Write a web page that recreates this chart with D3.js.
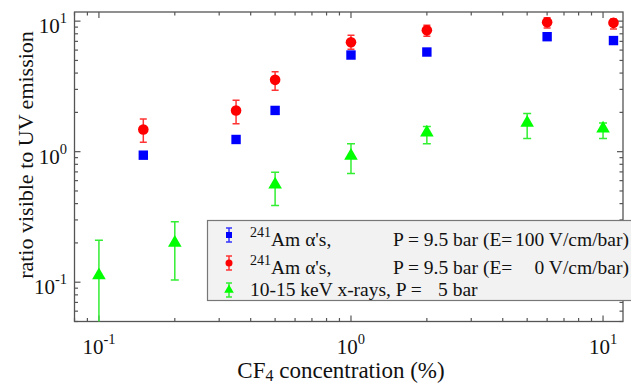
<!DOCTYPE html>
<html><head><meta charset="utf-8">
<script src="https://cdn.jsdelivr.net/npm/d3@7"></script>
<style>body{margin:0;background:#fff}svg{display:block}</style>
</head><body><svg id="c" width="631" height="383"></svg>
<script>
// Data
const blueX = [0.15, 0.35, 0.5, 1, 2, 6, 11];
const blueY = [0.94, 1.24, 2.07, 5.5, 5.8, 7.6, 7.1];
const blueLo = [0.90, 1.19, 1.99, 5.3, 5.6, 7.3, 6.85];
const blueHi = [0.98, 1.29, 2.15, 5.7, 6.0, 7.9, 7.35];

const redX = [0.15, 0.35, 0.5, 1, 2, 6, 11];
const redY = [1.48, 2.07, 3.55, 6.9, 8.5, 9.8, 9.7];
const redLo = [1.18, 1.64, 2.96, 6.08, 7.67, 8.85, 8.7];
const redHi = [1.78, 2.48, 4.10, 7.78, 9.3, 10.6, 10.4];

const greenX = [0.1, 0.2, 0.5, 1, 2, 5, 10];
const greenY = [0.113, 0.20, 0.56, 0.93, 1.40, 1.66, 1.50];
const greenLo = [0.03, 0.104, 0.387, 0.68, 1.15, 1.26, 1.26];
const greenHi = [0.21, 0.29, 0.695, 1.15, 1.56, 1.96, 1.66];

const xTicks = [0.1, 1, 10];
const xTickExp = ["-1", "0", "1"];
const yTicks = [0.1, 1, 10];
const yTickExp = ["-1", "0", "1"];

const legendSup = ["241", "241", ""];
const legendMain = ["Am \u03B1's,", "Am \u03B1's,", "10-15 keV x-rays, P ="];
const legendMid = ["P = 9.5 bar (E=", "P = 9.5 bar (E=", "5 bar"];
const legendEnd = ["100 V/cm/bar)", "0 V/cm/bar)", ""];

const svg = d3.select("#c");
function txt(sel){ return sel.append("text").style("font-family", '"Liberation Serif"').attr("fill", "#111"); }

const L = 74.5, R = 623, T = 12, B = 321.5;
const x = d3.scaleLog().domain([0.08, 12]).range([L, R]);
const y = d3.scaleLog().domain([0.05, 11.75]).range([B, T]);
const axisCol = "#555";

svg.append("clipPath").attr("id","pc").append("rect")
  .attr("x", L).attr("y", T).attr("width", R-L).attr("height", B-T);

// ticks
function tickVals(dom){
  const v=[]; for(let e=-3;e<=3;e++){for(let m=1;m<10;m++){const t=m*Math.pow(10,e); if(t>=dom[0]&&t<=dom[1]) v.push({t, major: m===1});}} return v;
}
const g = svg.append("g");
tickVals(x.domain()).forEach(d=>{
  const len = d.major?6:3.5;
  g.append("line").attr("x1",x(d.t)).attr("x2",x(d.t)).attr("y1",B).attr("y2",B-len).attr("stroke",axisCol).attr("stroke-width",1.2);
  g.append("line").attr("x1",x(d.t)).attr("x2",x(d.t)).attr("y1",T).attr("y2",T+len).attr("stroke",axisCol).attr("stroke-width",1.2);
});
tickVals(y.domain()).forEach(d=>{
  const len = d.major?6:3.5;
  g.append("line").attr("y1",y(d.t)).attr("y2",y(d.t)).attr("x1",L).attr("x2",L+len).attr("stroke",axisCol).attr("stroke-width",1.2);
  g.append("line").attr("y1",y(d.t)).attr("y2",y(d.t)).attr("x1",R).attr("x2",R-len).attr("stroke",axisCol).attr("stroke-width",1.2);
});
g.append("rect").attr("x",L).attr("y",T).attr("width",R-L).attr("height",B-T).attr("fill","none").attr("stroke",axisCol).attr("stroke-width",1.3);

// tick labels
xTicks.forEach((t,i)=>{
  const tx = txt(svg).attr("x", x(t)).attr("y", 354).attr("text-anchor","middle").attr("font-size",21);
  tx.append("tspan").text("10");
  tx.append("tspan").attr("dy",-10).attr("font-size",14.5).text(xTickExp[i]);
});
yTicks.forEach((t,i)=>{
  const tx = txt(svg).attr("x", 67).attr("y", y(t)+12).attr("text-anchor","end").attr("font-size",21);
  tx.append("tspan").text("10");
  tx.append("tspan").attr("dy",-10).attr("font-size",14.5).text(yTickExp[i]);
});

// axis titles
const xt = txt(svg).attr("x", 341).attr("y", 378).attr("text-anchor","middle").attr("font-size",23);
xt.append("tspan").text("CF");
xt.append("tspan").attr("dy",3).attr("font-size",16).text("4");
xt.append("tspan").attr("dy",-3).text(" concentration (%)");
txt(svg).attr("transform","translate(33,155) rotate(-90)").attr("text-anchor","middle").attr("font-size",22).text("ratio visible to UV emission");

// series
const plot = svg.append("g").attr("clip-path","url(#pc)");
function errbars(xs, lo, hi, col, cap){
  xs.forEach((xv,i)=>{
    plot.append("line").attr("x1",x(xv)).attr("x2",x(xv)).attr("y1",y(lo[i])).attr("y2",y(hi[i])).attr("stroke",col).attr("stroke-width",1.5);
    [lo[i],hi[i]].forEach(v=>plot.append("line").attr("x1",x(xv)-cap).attr("x2",x(xv)+cap).attr("y1",y(v)).attr("y2",y(v)).attr("stroke",col).attr("stroke-width",1.5));
  });
}
errbars(greenX, greenLo, greenHi, "#33ee33", 4);
errbars(redX, redLo, redHi, "#ff3333", 3.5);
errbars(blueX, blueLo, blueHi, "#3333ff", 3.5);

const tri = d3.symbol().type(d3.symbolTriangle).size(80);
greenX.forEach((xv,i)=>{
  plot.append("path").attr("d",tri).attr("transform",`translate(${x(xv)},${y(greenY[i])})`).attr("fill","#00ff00");
});
redX.forEach((xv,i)=>{
  plot.append("circle").attr("cx",x(xv)).attr("cy",y(redY[i])).attr("r",5.3).attr("fill","#ff0000");
});
blueX.forEach((xv,i)=>{
  plot.append("rect").attr("x",x(xv)-4.7).attr("y",y(blueY[i])-4.7).attr("width",9.4).attr("height",9.4).attr("fill","#0000ff");
});

// legend
svg.append("rect").attr("x",207.5).attr("y",220.5).attr("width",430).attr("height",80).attr("fill","#f2f2f2").attr("stroke","#777").attr("stroke-width",1.2);
const rowsY = [235, 263, 290];
const baseY = [246, 274, 296];
const cols = ["#0000ff","#ff0000","#00ff00"];
const ecols = ["#3333ff","#ff3333","#33ee33"];
legendMain.forEach((m,i)=>{
  const cy = rowsY[i], cx = 229, by = baseY[i];
  svg.append("line").attr("x1",cx).attr("x2",cx).attr("y1",cy-7).attr("y2",cy+7).attr("stroke",ecols[i]).attr("stroke-width",1.5);
  [cy-7,cy+7].forEach(v=>svg.append("line").attr("x1",cx-3).attr("x2",cx+3).attr("y1",v).attr("y2",v).attr("stroke",ecols[i]).attr("stroke-width",1.5));
  if(i===0) svg.append("rect").attr("x",cx-3).attr("y",cy-3).attr("width",6).attr("height",6).attr("fill",cols[i]);
  if(i===1) svg.append("circle").attr("cx",cx).attr("cy",cy).attr("r",3.5).attr("fill",cols[i]);
  if(i===2) svg.append("path").attr("d",d3.symbol().type(d3.symbolTriangle).size(40)).attr("transform",`translate(${cx},${cy})`).attr("fill",cols[i]);
  const t = txt(svg).attr("x",250).attr("y",by).attr("font-size",19.5);
  if(legendSup[i]){ t.append("tspan").attr("dy",-9).attr("font-size",14).text(legendSup[i]); t.append("tspan").attr("dy",9).text(m); }
  else t.text(m);
  txt(svg).attr("x", i<2 ? 393 : 438).attr("y",by).attr("font-size",19.5).text(legendMid[i]);
  if(legendEnd[i]) txt(svg).attr("x",629).attr("y",by).attr("text-anchor","end").attr("font-size",19.5).text(legendEnd[i]);
});
</script></body></html>
